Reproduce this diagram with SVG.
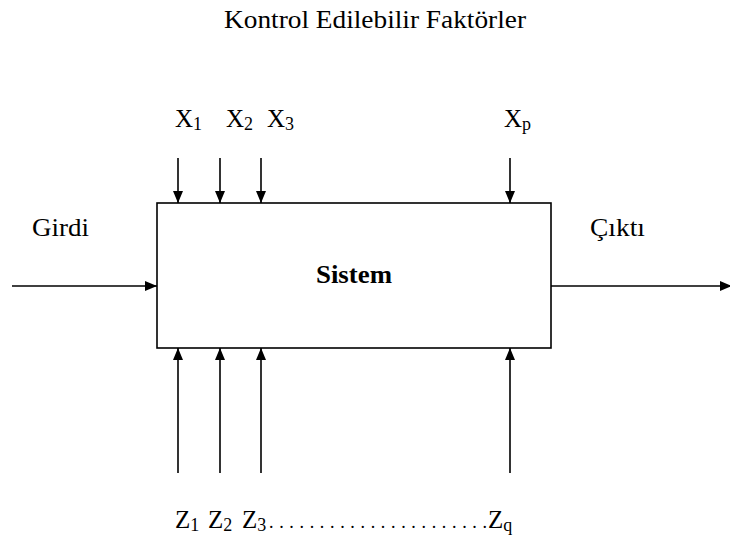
<svg xmlns="http://www.w3.org/2000/svg" width="730" height="541" viewBox="0 0 730 541">
<style>
text{font-family:"Liberation Serif","Times New Roman",serif;fill:#000}
.lbl{font-size:25px}
.sub{font-size:18px}
.ln{stroke:#000;stroke-width:1.6;fill:none}
</style>
<defs>
<marker id="ah" viewBox="0 0 12 10" refX="12" refY="5" markerWidth="12" markerHeight="10" markerUnits="userSpaceOnUse" orient="auto">
<path d="M0,0L12,5L0,10z" fill="#000"/>
</marker>
</defs>
<rect width="730" height="541" fill="#fff"/>
<text class="lbl" x="224" y="28" textLength="302" lengthAdjust="spacingAndGlyphs">Kontrol Edilebilir Faktörler</text>
<g id="sistem">
<rect x="157" y="203" width="394" height="145" fill="#fff" stroke="#000" stroke-width="1.6"/>
<text x="354" y="283" font-size="25" font-weight="bold" text-anchor="middle" textLength="76" lengthAdjust="spacingAndGlyphs">Sistem</text>
</g>
<g id="labels">
<text class="lbl" x="32" y="236" textLength="57" lengthAdjust="spacingAndGlyphs">Girdi</text>
<text class="lbl" x="590" y="236" textLength="55" lengthAdjust="spacingAndGlyphs">Çıktı</text>
<text class="lbl" x="175" y="127">X<tspan class="sub" dy="3">1</tspan></text>
<text class="lbl" x="226" y="127">X<tspan class="sub" dy="3">2</tspan></text>
<text class="lbl" x="267" y="127">X<tspan class="sub" dy="3">3</tspan></text>
<text class="lbl" x="504" y="127">X<tspan class="sub" dy="3">p</tspan></text>
<text class="lbl" x="175" y="528">Z<tspan class="sub" dy="3">1</tspan></text>
<text class="lbl" x="208" y="528">Z<tspan class="sub" dy="3">2</tspan></text>
<text class="lbl" x="242" y="528">Z<tspan class="sub" dy="3">3</tspan></text>
<text x="269" y="528" font-size="18" textLength="218" lengthAdjust="spacing">......................</text>
<text class="lbl" x="488" y="528">Z<tspan class="sub" dy="3">q</tspan></text>
</g>
<g id="connectors">
<line class="ln" x1="12" y1="286" x2="157" y2="286" marker-end="url(#ah)"/>
<line class="ln" x1="551" y1="286" x2="732" y2="286" marker-end="url(#ah)"/>
<line class="ln" x1="178" y1="158" x2="178" y2="203" marker-end="url(#ah)"/>
<line class="ln" x1="220" y1="158" x2="220" y2="203" marker-end="url(#ah)"/>
<line class="ln" x1="261" y1="158" x2="261" y2="203" marker-end="url(#ah)"/>
<line class="ln" x1="510" y1="158" x2="510" y2="203" marker-end="url(#ah)"/>
<line class="ln" x1="178" y1="473" x2="178" y2="348" marker-end="url(#ah)"/>
<line class="ln" x1="220" y1="473" x2="220" y2="348" marker-end="url(#ah)"/>
<line class="ln" x1="261" y1="473" x2="261" y2="348" marker-end="url(#ah)"/>
<line class="ln" x1="510" y1="473" x2="510" y2="348" marker-end="url(#ah)"/>
</g>
</svg>
